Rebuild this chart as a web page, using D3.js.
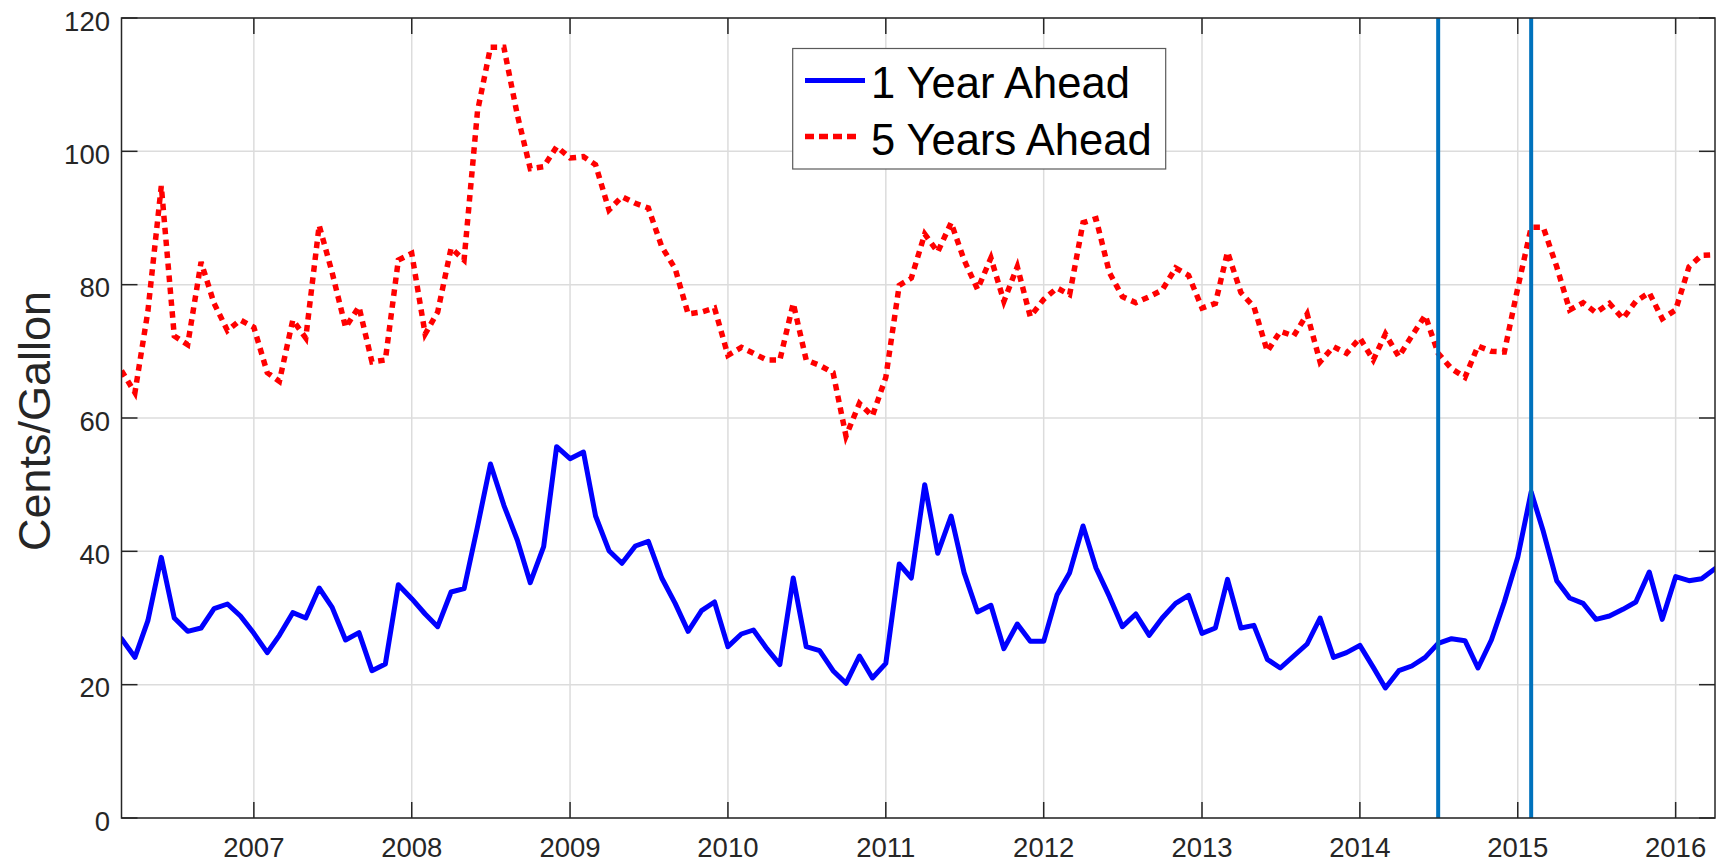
<!DOCTYPE html>
<html>
<head>
<meta charset="utf-8">
<script src="https://cdn.jsdelivr.net/npm/d3@7"></script>
<style>
  html, body { margin: 0; padding: 0; background: #fff; }
  svg { display: block; }
  text { font-family: "Liberation Sans", Arial, Helvetica, sans-serif; }
</style>
</head>
<body>
<svg id="chart" width="1716" height="864"></svg>
<script>
// ---- data (monthly, Mar 2006 .. Apr 2016), cents per gallon ----
const startMonth = "2006-03";
const endMonth = "2016-04";
const oneYearAhead = [
  26.9, 24.1, 29.6, 39.1, 30.0, 28.0, 28.5, 31.4, 32.1, 30.3,
  27.7, 24.8, 27.4, 30.8, 30.0, 34.5, 31.6, 26.7, 27.8, 22.1, 23.1, 35.0,
  32.9, 30.6, 28.7, 33.9, 34.4, 43.7, 53.1, 46.9, 41.7, 35.3, 40.7, 55.7,
  53.9, 54.9, 45.3, 40.1, 38.2, 40.8, 41.5, 36.0, 32.2, 28.0, 31.1, 32.4,
  25.7, 27.6, 28.2, 25.4, 23.0, 36.0, 25.7, 25.1, 22.1, 20.2, 24.3, 21.0,
  23.2, 38.1, 36.0, 50.0, 39.7, 45.3, 36.8, 30.9, 31.9, 25.4, 29.1, 26.5,
  26.5, 33.5, 36.8, 43.8, 37.5, 33.2, 28.7, 30.6, 27.4, 30.0, 32.2, 33.4,
  27.7, 28.5, 35.8, 28.5, 28.9, 23.8, 22.5, 24.3, 26.1, 30.0, 24.1, 24.8,
  25.9, 22.6, 19.5, 22.1, 22.8, 24.1, 26.2, 26.9, 26.6, 22.5, 26.7, 32.4,
  39.1, 48.9, 43.0, 35.6, 33.0, 32.2, 29.8, 30.3, 31.3, 32.4, 36.9, 29.8,
  36.2, 35.6, 35.9, 37.4
];
const fiveYearsAhead = [
  67.1, 63.8, 76.0, 94.8, 72.3, 71.0, 83.4, 77.2, 73.1, 74.7,
  73.6, 66.8, 65.5, 74.7, 72.0, 88.9, 81.8, 73.6, 76.7, 68.4, 68.7, 83.7,
  84.7, 72.6, 75.9, 85.5, 83.7, 106.0, 115.6, 115.6, 105.5, 97.4, 97.7, 100.7,
  99.0, 99.2, 98.0, 91.2, 93.2, 92.2, 91.5, 85.7, 82.4, 75.6, 75.9, 76.5,
  69.4, 70.6, 69.7, 68.7, 68.7, 77.2, 68.7, 67.9, 66.8, 57.3, 62.2, 60.3,
  66.1, 79.9, 81.0, 87.6, 84.9, 89.3, 83.7, 79.3, 84.0, 77.5, 82.7, 75.2,
  77.8, 79.5, 78.5, 89.3, 89.9, 81.8, 78.2, 77.3, 78.2, 79.2, 82.5, 81.4,
  76.5, 77.2, 84.9, 78.8, 76.7, 70.0, 73.0, 72.3, 75.6, 68.4, 70.7, 69.7,
  72.0, 68.7, 72.6, 69.2, 72.3, 75.4, 69.7, 67.4, 66.1, 70.8, 70.0, 69.9,
  79.5, 88.6, 88.6, 82.7, 76.2, 77.3, 75.8, 77.2, 74.9, 77.5, 78.8, 74.9,
  76.2, 82.7, 84.4, 84.5
];
const markerDates = ["2014-07-01", "2015-02-01"];
const yTickValues = [0, 20, 40, 60, 80, 100, 120];
const xTickYears = [2007, 2008, 2009, 2010, 2011, 2012, 2013, 2014, 2015, 2016];
const seriesNames = ["1 Year Ahead", "5 Years Ahead"];
const yLabel = "Cents/Gallon";

// ---- layout ----
const L = 121.5, R = 1715, T = 18, B = 818;
const parseMonth = d3.timeParse("%Y-%m");
const parseDay = d3.timeParse("%Y-%m-%d");
const months = d3.timeMonth.range(parseMonth(startMonth), d3.timeMonth.offset(parseMonth(endMonth), 1));

const x = d3.scaleTime().domain([parseMonth(startMonth), parseMonth(endMonth)]).range([L, R]);
const y = d3.scaleLinear().domain([0, 120]).range([B, T]);

const svg = d3.select("#chart");
svg.append("rect").attr("width", 1716).attr("height", 864).attr("fill", "#fff");

svg.append("defs").append("clipPath").attr("id", "clip")
  .append("rect").attr("x", L).attr("y", T).attr("width", R - L).attr("height", B - T);

const xTickDates = xTickYears.map(yr => new Date(yr, 0, 1));

// grid
const grid = svg.append("g").attr("stroke", "#dcdcdc").attr("stroke-width", 1.5);
grid.selectAll("line.v").data(xTickDates).join("line")
  .attr("x1", d => x(d)).attr("x2", d => x(d)).attr("y1", T).attr("y2", B);
grid.selectAll("line.h").data(yTickValues).join("line")
  .attr("x1", L).attr("x2", R).attr("y1", d => y(d)).attr("y2", d => y(d));

// data lines
const plot = svg.append("g").attr("clip-path", "url(#clip)");
const line = d3.line().x((d, i) => x(months[i])).y(d => y(d));

plot.append("path").datum(fiveYearsAhead)
  .attr("d", line).attr("fill", "none")
  .attr("stroke", "#ff0000").attr("stroke-width", 5.5)
  .attr("stroke-dasharray", "6.5,5.5").attr("stroke-linejoin", "miter");

plot.append("path").datum(oneYearAhead)
  .attr("d", line).attr("fill", "none")
  .attr("stroke", "#0000ff").attr("stroke-width", 5)
  .attr("stroke-linejoin", "round").attr("stroke-linecap", "round");

// vertical marker lines
plot.selectAll("line.marker").data(markerDates.map(parseDay)).join("line")
  .attr("x1", d => x(d)).attr("x2", d => x(d)).attr("y1", T).attr("y2", B)
  .attr("stroke", "#0072BD").attr("stroke-width", 4);

// axes box and ticks
const axisColor = "#262626";
const ax = svg.append("g").attr("stroke", axisColor).attr("stroke-width", 1.5).attr("fill", "none");
ax.append("rect").attr("x", L).attr("y", T).attr("width", R - L).attr("height", B - T);
const tl = 16;
ax.selectAll("line.xb").data(xTickDates).join("line")
  .attr("x1", d => x(d)).attr("x2", d => x(d)).attr("y1", B).attr("y2", B - tl);
ax.selectAll("line.xt").data(xTickDates).join("line")
  .attr("x1", d => x(d)).attr("x2", d => x(d)).attr("y1", T).attr("y2", T + tl);
ax.selectAll("line.yl").data(yTickValues).join("line")
  .attr("x1", L).attr("x2", L + tl).attr("y1", d => y(d)).attr("y2", d => y(d));
ax.selectAll("line.yr").data(yTickValues).join("line")
  .attr("x1", R).attr("x2", R - tl).attr("y1", d => y(d)).attr("y2", d => y(d));

// tick labels
svg.append("g").selectAll("text").data(xTickDates).join("text")
  .attr("x", d => x(d)).attr("y", 857)
  .attr("text-anchor", "middle").attr("font-size", 27.5).attr("fill", axisColor)
  .text(d => d3.timeFormat("%Y")(d));

svg.append("g").selectAll("text").data(yTickValues).join("text")
  .attr("x", 110).attr("y", d => y(d) + 12.5)
  .attr("text-anchor", "end").attr("font-size", 27.5).attr("fill", axisColor)
  .text(d => d);

// y label
svg.append("text")
  .attr("transform", "translate(50,421) rotate(-90)")
  .attr("text-anchor", "middle").attr("font-size", 45).attr("fill", axisColor)
  .text(yLabel);

// legend
const lg = svg.append("g");
lg.append("rect").attr("x", 792.7).attr("y", 48.5).attr("width", 373).attr("height", 120.5)
  .attr("fill", "#fff").attr("stroke", "#5a5a5a").attr("stroke-width", 1.2);
lg.append("line").attr("x1", 805).attr("x2", 865).attr("y1", 80.5).attr("y2", 80.5)
  .attr("stroke", "#0000ff").attr("stroke-width", 5);
lg.append("line").attr("x1", 805).attr("x2", 860).attr("y1", 136.5).attr("y2", 136.5)
  .attr("stroke", "#ff0000").attr("stroke-width", 5.5).attr("stroke-dasharray", "9,5");
lg.selectAll("text").data(seriesNames).join("text")
  .attr("x", 871).attr("y", (d, i) => 98 + i * 56.5)
  .attr("font-size", 43.5).attr("fill", "#000")
  .text(d => d);
</script>
</body>
</html>
